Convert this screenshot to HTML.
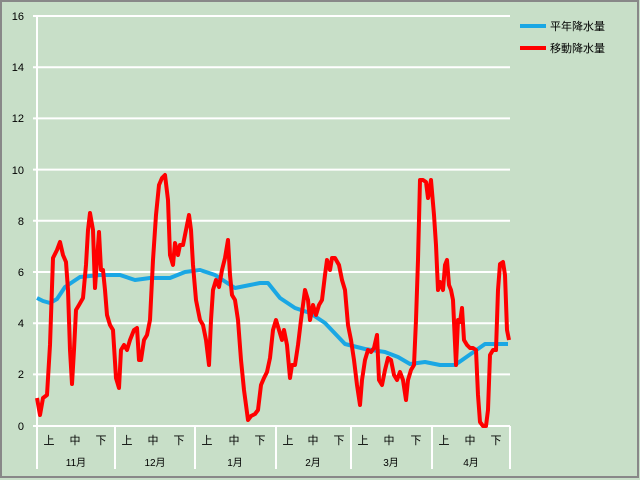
<!DOCTYPE html>
<html><head><meta charset="utf-8"><style>
html,body{margin:0;padding:0;background:#fff}
svg{display:block}
text{font-family:"Liberation Sans","Noto Sans CJK JP",sans-serif;fill:#000}
</style></head><body>
<svg width="640" height="480" viewBox="0 0 640 480" xmlns="http://www.w3.org/2000/svg">
<rect x="0" y="0" width="640" height="480" fill="#c8dfc8"/>
<rect x="1" y="1" width="637" height="476" fill="none" stroke="#888" stroke-width="2"/>
<g stroke="#fff" stroke-width="2">
<line x1="33" y1="16" x2="510" y2="16"/>
<line x1="33" y1="67.2" x2="510" y2="67.2"/>
<line x1="33" y1="118.4" x2="510" y2="118.4"/>
<line x1="33" y1="169.6" x2="510" y2="169.6"/>
<line x1="33" y1="220.8" x2="510" y2="220.8"/>
<line x1="33" y1="272" x2="510" y2="272"/>
<line x1="33" y1="323.2" x2="510" y2="323.2"/>
<line x1="33" y1="374.4" x2="510" y2="374.4"/>
<line x1="33" y1="426" x2="510" y2="426"/>
<line x1="37" y1="15" x2="37" y2="469"/>
<line x1="115" y1="426" x2="115" y2="469"/>
<line x1="195" y1="426" x2="195" y2="469"/>
<line x1="276" y1="426" x2="276" y2="469"/>
<line x1="351" y1="426" x2="351" y2="469"/>
<line x1="432" y1="426" x2="432" y2="469"/>
<line x1="510" y1="426" x2="510" y2="469"/>
</g>
<g font-size="11" text-anchor="end">
<text x="24" y="20">16</text><text x="24" y="71">14</text><text x="24" y="122">12</text>
<text x="24" y="174">10</text><text x="24" y="225">8</text><text x="24" y="276">6</text>
<text x="24" y="327">4</text><text x="24" y="378">2</text><text x="24" y="430">0</text>
</g>
<g font-size="11" text-anchor="middle">
<text x="49" y="444">上</text><text x="75" y="444">中</text><text x="101" y="444">下</text>
<text x="127" y="444">上</text><text x="153" y="444">中</text><text x="179" y="444">下</text>
<text x="207" y="444">上</text><text x="234" y="444">中</text><text x="260" y="444">下</text>
<text x="288" y="444">上</text><text x="313" y="444">中</text><text x="339" y="444">下</text>
<text x="363" y="444">上</text><text x="389" y="444">中</text><text x="416" y="444">下</text>
<text x="444" y="444">上</text><text x="470" y="444">中</text><text x="496" y="444">下</text>
<text x="76" y="466" font-size="10">11月</text><text x="155" y="466" font-size="10">12月</text>
<text x="235" y="466" font-size="10">1月</text><text x="313" y="466" font-size="10">2月</text>
<text x="391" y="466" font-size="10">3月</text><text x="471" y="466" font-size="10">4月</text>
</g>
<polyline fill="none" stroke="#1aa7e4" stroke-width="4" stroke-linejoin="round" points="37,298 43,301 50,303 57,299 65,287 80,277 100,275 120,275 135,280 150,278 170,278 185,272 200,270 215,275 235,288 250,285 260,283 268,283 280,298 295,308 310,313 325,323 345,344 365,349 385,352 398,357 410,364 425,362 440,365 455,365 465,358 485,344 508,344"/>
<polyline fill="none" stroke="#f00" stroke-width="4" stroke-linejoin="round" points="37,398 40,415 43,398 47,395 50,345 53,258 57,250 60,242 63,255 66,262 68,290 70,350 72,384 74,350 76,310 79,305 83,298 86,265 88,230 90,213 93,230 95,288 97,260 99,232 101,270 103,270 105,290 107,315 110,325 113,330 116,378 119,388 121,350 124,345 127,350 130,340 134,330 137,328 139,360 141,360 144,340 147,335 150,320 153,260 156,215 159,185 162,178 165,175 168,200 170,255 173,265 175,243 178,255 180,245 183,245 186,230 189,215 191,230 193,265 196,300 200,320 203,325 206,340 209,365 211,320 213,290 216,280 219,287 222,270 225,258 228,240 230,275 232,295 235,300 238,320 241,360 244,390 248,420 251,416 255,414 258,410 261,385 264,378 267,372 270,358 273,330 276,320 279,330 282,340 284,330 287,345 290,378 292,365 295,365 298,345 301,320 305,290 308,300 310,320 313,305 316,315 319,305 322,300 325,275 327,260 330,270 332,258 335,258 339,265 342,280 345,290 348,325 351,340 354,360 357,385 360,405 362,380 365,360 368,350 371,352 374,348 377,335 379,380 382,385 385,370 388,358 391,360 394,375 397,380 400,372 403,380 406,400 408,380 411,370 414,365 416,320 418,260 420,180 423,180 426,182 428,198 431,180 434,215 436,245 438,290 440,282 443,290 445,265 447,260 449,285 451,290 453,300 456,365 458,320 460,322 462,308 464,340 467,345 470,348 473,348 476,350 478,395 480,422 483,426 486,426 488,410 490,355 493,350 496,350 498,290 500,264 503,262 505,275 507,330 509,340"/>
<line x1="520" y1="26" x2="546" y2="26" stroke="#1aa7e4" stroke-width="4"/>
<line x1="520" y1="48" x2="546" y2="48" stroke="#f00" stroke-width="4"/>
<text x="550" y="30" font-size="11">平年降水量</text>
<text x="550" y="52" font-size="11">移動降水量</text>
</svg>
</body></html>
